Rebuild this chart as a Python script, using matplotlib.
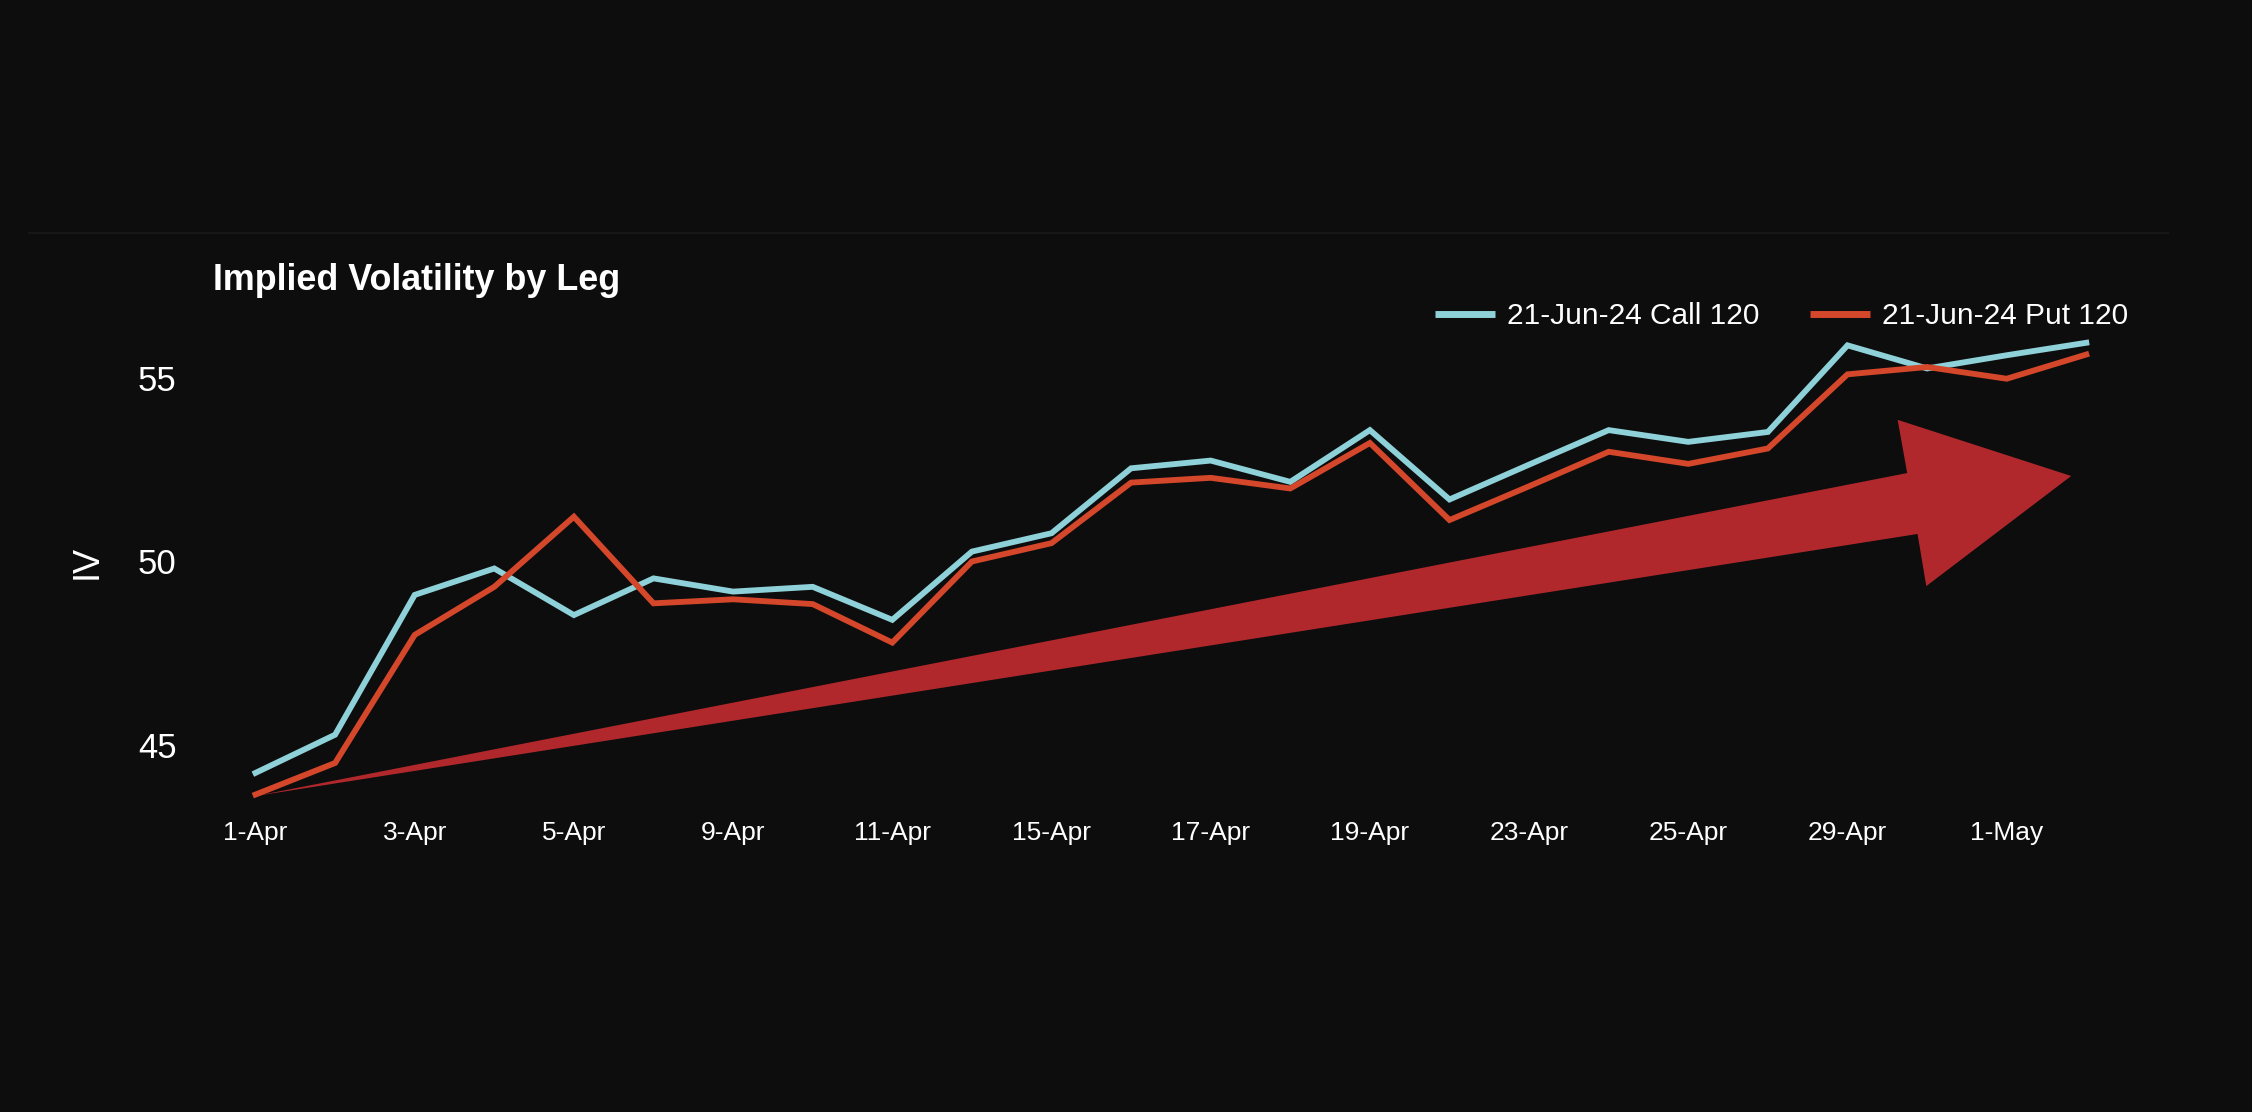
import matplotlib
matplotlib.use('Agg')
import matplotlib.pyplot as plt
from matplotlib.patches import Polygon
from matplotlib.lines import Line2D

# ---- data ----
dates = ['1-Apr', '2-Apr', '3-Apr', '4-Apr', '5-Apr', '8-Apr', '9-Apr', '10-Apr',
         '11-Apr', '12-Apr', '15-Apr', '16-Apr', '17-Apr', '18-Apr', '19-Apr',
         '22-Apr', '23-Apr', '24-Apr', '25-Apr', '26-Apr', '29-Apr', '30-Apr',
         '1-May', '2-May']
call_iv = [44.24, 45.28, 49.09, 49.81, 48.54, 49.54, 49.18, 49.31, 48.41, 50.27,
           50.77, 52.54, 52.75, 52.17, 53.58, 51.69, 52.64, 53.58, 53.26, 53.53,
           55.89, 55.26, 55.62, 55.96]
put_iv = [43.65, 44.51, 48.00, 49.31, 51.22, 48.86, 48.97, 48.84, 47.79, 50.00,
          50.50, 52.15, 52.28, 51.99, 53.23, 51.13, 52.05, 52.99, 52.66, 53.08,
          55.10, 55.30, 54.98, 55.64]
call_label = '21-Jun-24 Call 120'
put_label = '21-Jun-24 Put 120'
title = 'Implied Volatility by Leg'
y_ticks = [45, 50, 55]

# trend arrow annotation (data coordinates: index, IV)
arrow_pts = [(0.0, 43.61), (20.75, 52.41), (20.63, 53.86), (22.81, 52.33),
             (20.99, 49.33), (20.88, 50.75)]

BG = '#0d0d0d'
CALL_C = '#8ed1d8'
PUT_C = '#d4472a'
ARROW_C = '#b1282c'

plt.rcParams['font.family'] = ['Liberation Sans', 'DejaVu Sans']

W, H = 2252, 1112
fig = plt.figure(figsize=(W / 100, H / 100), dpi=100, facecolor=BG)

L, R, T, B = 215.7, 2126.1, 304.6, 818.4
ax = fig.add_axes([L / W, (H - B) / H, (R - L) / W, (B - T) / H])
ax.set_facecolor(BG)
for s in ax.spines.values():
    s.set_visible(False)

x = list(range(len(dates)))
ax.add_patch(Polygon(arrow_pts, closed=True, facecolor=ARROW_C, edgecolor='none', zorder=1))
ax.plot(x, call_iv, color=CALL_C, lw=4.2, label=call_label, zorder=3, solid_joinstyle='miter')
ax.plot(x, put_iv, color=PUT_C, lw=4.2, label=put_label, zorder=4, solid_joinstyle='miter')

ax.set_xlim(-0.5, 23.5)
ax.set_ylim(43, 57)
ax.set_xticks(x[::2])
ax.set_xticklabels(dates[::2])
ax.set_yticks(y_ticks)
ax.tick_params(axis='x', length=0, pad=2, labelsize=19, colors='white')
ax.tick_params(axis='y', length=0, pad=28, labelsize=25, colors='white')
ax.set_ylabel('IV', fontsize=26, color='white', labelpad=24)

leg = ax.legend(loc='center right', bbox_to_anchor=(2128 / W, 1 - 316 / H),
                bbox_transform=fig.transFigure, ncol=2, frameon=False,
                fontsize=21.5, handlelength=2.0, handletextpad=0.4,
                columnspacing=1.7, borderpad=0, borderaxespad=0)
for t in leg.get_texts():
    t.set_color('white')
for h in leg.get_lines():
    h.set_linewidth(5)
    h.set_solid_capstyle('butt')

fig.text(213 / W, 1 - 290 / H, title, fontsize=25.8, fontweight='bold',
         color='white', ha='left', va='baseline')

fig.add_artist(Line2D([29 / W, 2168 / W], [1 - 233 / H] * 2, color='#171717', lw=1.5))

fig.savefig('out.png', dpi=100, facecolor=BG)
